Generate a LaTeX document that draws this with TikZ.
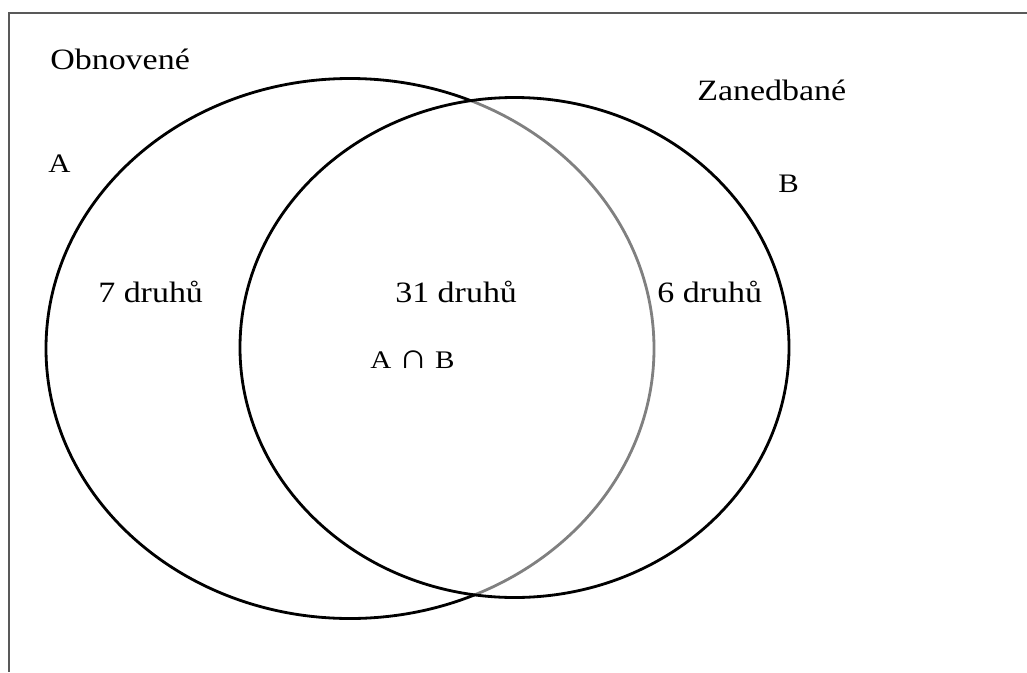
\documentclass[tikz,border=0pt]{standalone}
\usepackage{fontspec}
\setmainfont{Liberation Serif}[FakeStretch=1.15]
\def\firstset{(350,348.5) ellipse [x radius=304, y radius=270]}
\def\secondset{(514.5,347.5) ellipse [x radius=274.5, y radius=250]}
\colorlet{set edge}{black}
\colorlet{inner edge}{black!50}
\colorlet{frame edge}{black!65}
\tikzset{outline/.style={draw=set edge, line width=2pt},
    inner/.style={draw=inner edge, line width=2pt},
    label/.style={anchor=base west, inner sep=0pt, font=\fontsize{21}{24}\selectfont},
    setname/.style={anchor=base west, inner sep=0pt, font=\fontsize{19}{22}\selectfont}}

\begin{document}
\begin{tikzpicture}[x=0.025cm, y=-0.025cm]
        \useasboundingbox (0,0) rectangle (1027,672);
        % Frame
        \coordinate (frame top) at (1027,13);
        \coordinate (frame corner) at (9,13);
        \coordinate (frame bottom) at (9,672);
        \draw[frame edge, line width=1.3pt] (frame top) -- (frame corner) -- (frame bottom);

        % Set A, grey where it lies inside B
        \begin{scope}
            \clip \secondset;
            \draw[inner] \firstset;
        \end{scope}
        \begin{scope}[even odd rule]
            \clip (0,0) rectangle (1027,672) \secondset;
            \draw[outline] \firstset;
        \end{scope}

        % Set B
        \draw[outline] \secondset;

        % Labels
        \node[label] (obnovene) at (50,69) {Obnovené};
        \node[setname] (a) at (48,172) {A};
        \node[label] (zanedbane) at (697,100) {Zanedbané};
        \node[setname] (b) at (778,192) {B};
        \node[label] (only a) at (98,302) {7 druhů};
        \node[label] (both) at (395,302) {31 druhů};
        \node[label] (only b) at (657,302) {6 druhů};
        \node[setname, font=\fontsize{18}{20}\selectfont] (cap) at (370,368)
            {A {\fontsize{25}{26}\selectfont ∩} B};
\end{tikzpicture}
\end{document}
